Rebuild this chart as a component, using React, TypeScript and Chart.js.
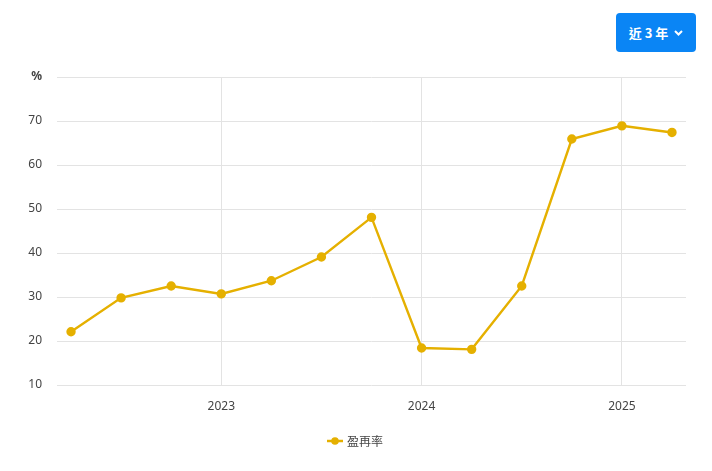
import { Chart, registerables } from "chart.js";
import { useEffect, useRef } from "react";

Chart.register(...registerables);

// quarter start months, "YYYY-MM"
const periods = [
  "2022-04", "2022-07", "2022-10",
  "2023-01", "2023-04", "2023-07", "2023-10",
  "2024-01", "2024-04", "2024-07", "2024-10",
  "2025-01", "2025-04",
];
const reinvestRate = [22.1, 29.8, 32.5, 30.7, 33.7, 39.1, 48.1, 18.4, 18.1, 32.5, 65.9, 68.9, 67.4];
const yearTicks = [2023, 2024, 2025];
const yTicks = [10, 20, 30, 40, 50, 60, 70, 80];

const seriesLabel = "盈再率";
const lineColor = "#e5b000";
const textColor = "#444";
const gridColor = "#e3e3e3";
const baseYear = 2022;

const toQuarterIndex = (p: string) => {
  const [y, m] = p.split("-").map(Number);
  return (y - baseYear) * 4 + (m - 1) / 3;
};

function legendIcon() {
  const c = document.createElement("canvas");
  const dpr = window.devicePixelRatio || 1;
  c.width = 16 * dpr;
  c.height = 10 * dpr;
  c.style.width = "16px";
  c.style.height = "10px";
  const ctx = c.getContext("2d")!;
  ctx.scale(dpr, dpr);
  ctx.strokeStyle = lineColor;
  ctx.lineWidth = 2.5;
  ctx.beginPath();
  ctx.moveTo(0, 5);
  ctx.lineTo(16, 5);
  ctx.stroke();
  ctx.fillStyle = lineColor;
  ctx.beginPath();
  ctx.arc(8, 5, 3.8, 0, Math.PI * 2);
  ctx.fill();
  return c;
}

export default function App() {
  const canvasRef = useRef<HTMLCanvasElement | null>(null);

  useEffect(() => {
    const el = canvasRef.current;
    if (!el) return;
    const icon = legendIcon();
    const xs = periods.map(toQuarterIndex);

    const chart = new Chart(el, {
      type: "line",
      data: {
        datasets: [
          {
            label: seriesLabel,
            data: xs.map((x, i) => ({ x, y: reinvestRate[i] })),
            borderColor: lineColor,
            backgroundColor: lineColor,
            borderWidth: 2.4,
            pointRadius: 3.5,
            pointHoverRadius: 5,
            tension: 0,
          },
        ],
      },
      options: {
        animation: false,
        responsive: true,
        maintainAspectRatio: false,
        layout: { padding: { top: 77, right: 0, left: 0, bottom: 14 } },
        scales: {
          x: {
            type: "linear",
            min: xs[0] - 0.28,
            max: xs[xs.length - 1] + 0.28,
            border: { display: false },
            grid: { color: gridColor, drawTicks: false },
            afterBuildTicks(scale) {
              scale.ticks = yearTicks.map((yr) => ({ value: (yr - baseYear) * 4 }));
            },
            afterFit(scale) {
              scale.height = 36;
            },
            ticks: {
              padding: 14,
              color: textColor,
              font: { family: "'Noto Sans', sans-serif", size: 12 },
              callback: (v) => String(baseYear + Number(v) / 4),
            },
          },
          y: {
            min: 10,
            max: 80,
            border: { display: false },
            grid: { color: gridColor, drawTicks: false },
            afterBuildTicks(scale) {
              scale.ticks = yTicks.map((value) => ({ value }));
            },
            afterFit(scale) {
              scale.width = 57;
            },
            ticks: {
              padding: 15,
              color: textColor,
              font: (ctx) => ({
                family: "'Noto Sans', sans-serif",
                size: 12,
                weight: ctx.tick && ctx.tick.value === 80 ? "bold" : "normal",
              }),
              callback: (v) => (Number(v) === 80 ? "%" : String(v)),
            },
          },
          // empty right gutter so the legend centres on the full width
          gutter: {
            type: "linear",
            position: "right",
            display: true,
            border: { display: false },
            grid: { display: false },
            ticks: { display: false },
            afterFit(scale) {
              scale.width = 26;
            },
          },
        },
        plugins: {
          legend: {
            position: "bottom",
            labels: {
              usePointStyle: true,
              color: textColor,
              padding: 14,
              font: { family: "'Noto Sans CJK TC', 'Noto Sans', sans-serif", size: 12 },
              generateLabels: (c) =>
                c.data.datasets.map((ds, i) => ({
                  text: ds.label as string,
                  datasetIndex: i,
                  pointStyle: icon,
                  fillStyle: lineColor,
                  strokeStyle: lineColor,
                  lineWidth: 0,
                  fontColor: textColor,
                  hidden: false,
                })),
            },
          },
          tooltip: { enabled: true },
        },
      },
    });

    return () => {
      chart.destroy();
    };
  }, []);

  return (
    <div
      style={{
        position: "fixed",
        left: 0,
        top: 0,
        width: 712,
        height: 471,
        background: "#fff",
        fontFamily: "'Noto Sans CJK TC', 'Noto Sans', sans-serif",
      }}
    >
      <canvas ref={canvasRef} />
      <div
        style={{
          position: "absolute",
          left: 616,
          top: 13,
          width: 80,
          height: 39,
          background: "#0a85f5",
          borderRadius: 4,
          color: "#fff",
          fontWeight: 700,
          fontSize: 13,
          display: "flex",
          alignItems: "center",
          justifyContent: "center",
          gap: 6,
        }}
      >
        <span>近 3 年</span>
        <svg width="9" height="6" viewBox="0 0 9 6">
          <path d="M1 1 L4.5 4.5 L8 1" stroke="#fff" strokeWidth="2" fill="none" />
        </svg>
      </div>
    </div>
  );
}
